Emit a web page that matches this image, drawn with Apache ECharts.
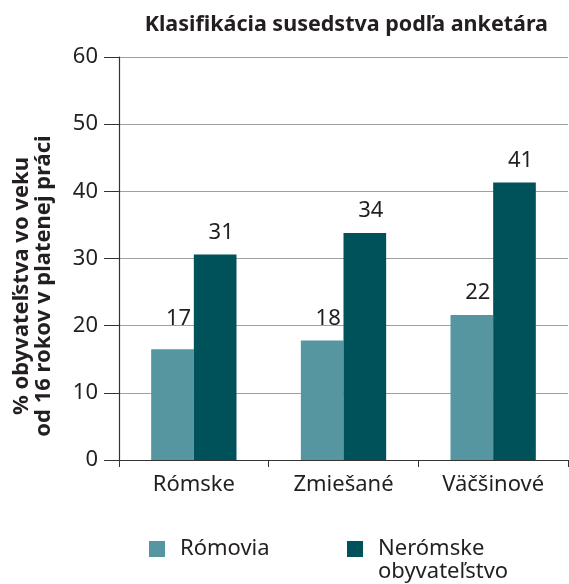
<!DOCTYPE html>
<html>
<head>
<meta charset="utf-8">
<script src="https://cdn.jsdelivr.net/npm/echarts@6/dist/echarts.min.js"></script>
<style>
  html, body { margin: 0; padding: 0; background: #fff; }
  #chart { width: 569px; height: 584px; }
</style>
</head>
<body>
<div id="chart"></div>
<script>
// hodnoty odčítané z grafu
const categories = ["Rómske", "Zmiešané", "Väčšinové"];
const romovia = [16.5, 17.8, 21.6];
const neromske = [30.6, 33.8, 41.3];
const yTicks = [0, 10, 20, 30, 40, 50, 60];

const textColor = "#231f20";
const fontFamily = "'Noto Sans', sans-serif";

const chart = echarts.init(document.getElementById("chart"));

const barLabel = {
  show: true,
  position: "top",
  distance: 11,
  offset: [6, 0],
  fontSize: 22,
  color: textColor,
  formatter: p => Math.round(p.value)
};

const option = {
  animation: false,
  textStyle: { fontFamily: fontFamily, color: textColor },
  title: {
    text: "Klasifikácia susedstva podľa anketára",
    right: 21,
    top: 14,
    padding: 0,
    textStyle: { fontSize: 21.5, fontWeight: "bold", color: textColor, fontFamily: fontFamily }
  },
  // názov osi Y (dva riadky)
  graphic: [
    {
      type: "text",
      x: 32.5,
      y: 286,
      rotation: Math.PI / 2,
      style: {
        text: "% obyvateľstva vo veku\nod 16 rokov v platenej práci",
        font: "bold 22px 'Noto Sans', sans-serif",
        lineHeight: 22,
        fill: textColor,
        align: "center",
        verticalAlign: "middle"
      }
    }
  ],
  legend: [
    {
      data: ["Rómovia"],
      left: 149,
      top: 537.5,
      padding: 0,
      itemWidth: 16,
      itemHeight: 16,
      icon: "rect",
      textStyle: { fontSize: 22, lineHeight: 23, color: textColor, padding: [0, 0, 0, 10] }
    },
    {
      data: ["Nerómske obyvateľstvo"],
      left: 347,
      top: 514.5,
      padding: 0,
      itemWidth: 16,
      itemHeight: 16,
      icon: "rect",
      // prázdny prvý riadok – ikona zostane pri riadku „Nerómske“
      formatter: () => "\nNerómske\nobyvateľstvo",
      textStyle: { fontSize: 22, lineHeight: 23, color: textColor, padding: [0, 0, 0, 10] }
    }
  ],
  grid: { left: 119, right: 1, top: 57, bottom: 124, containLabel: false },
  xAxis: {
    type: "category",
    data: categories,
    axisLine: { lineStyle: { color: "#333", width: 1.2 } },
    axisTick: { show: true, length: 7, interval: 0, lineStyle: { color: "#333" } },
    axisLabel: { fontSize: 22, color: textColor, margin: 14 }
  },
  yAxis: {
    type: "value",
    min: yTicks[0],
    max: yTicks[yTicks.length - 1],
    interval: 10,
    axisLine: { show: true, lineStyle: { color: "#333", width: 1.2 } },
    axisTick: { show: true, length: 15, lineStyle: { color: "#333" } },
    axisLabel: { fontSize: 22, color: textColor, margin: 21 },
    splitLine: { lineStyle: { color: "#a0a0a0", width: 1 } }
  },
  series: [
    {
      name: "Rómovia",
      type: "bar",
      // popisok pri prvom stĺpci je v origináli vyššie
      data: romovia.map((v, i) => i === 0 ? { value: v, label: { offset: [6, -8] } } : v),
      barGap: 0,
      barCategoryGap: "43%",
      itemStyle: { color: "#5596a0" },
      label: barLabel
    },
    {
      name: "Nerómske obyvateľstvo",
      type: "bar",
      data: neromske,
      itemStyle: { color: "#00525a" },
      label: barLabel
    }
  ]
};

chart.setOption(option);
</script>
</body>
</html>
